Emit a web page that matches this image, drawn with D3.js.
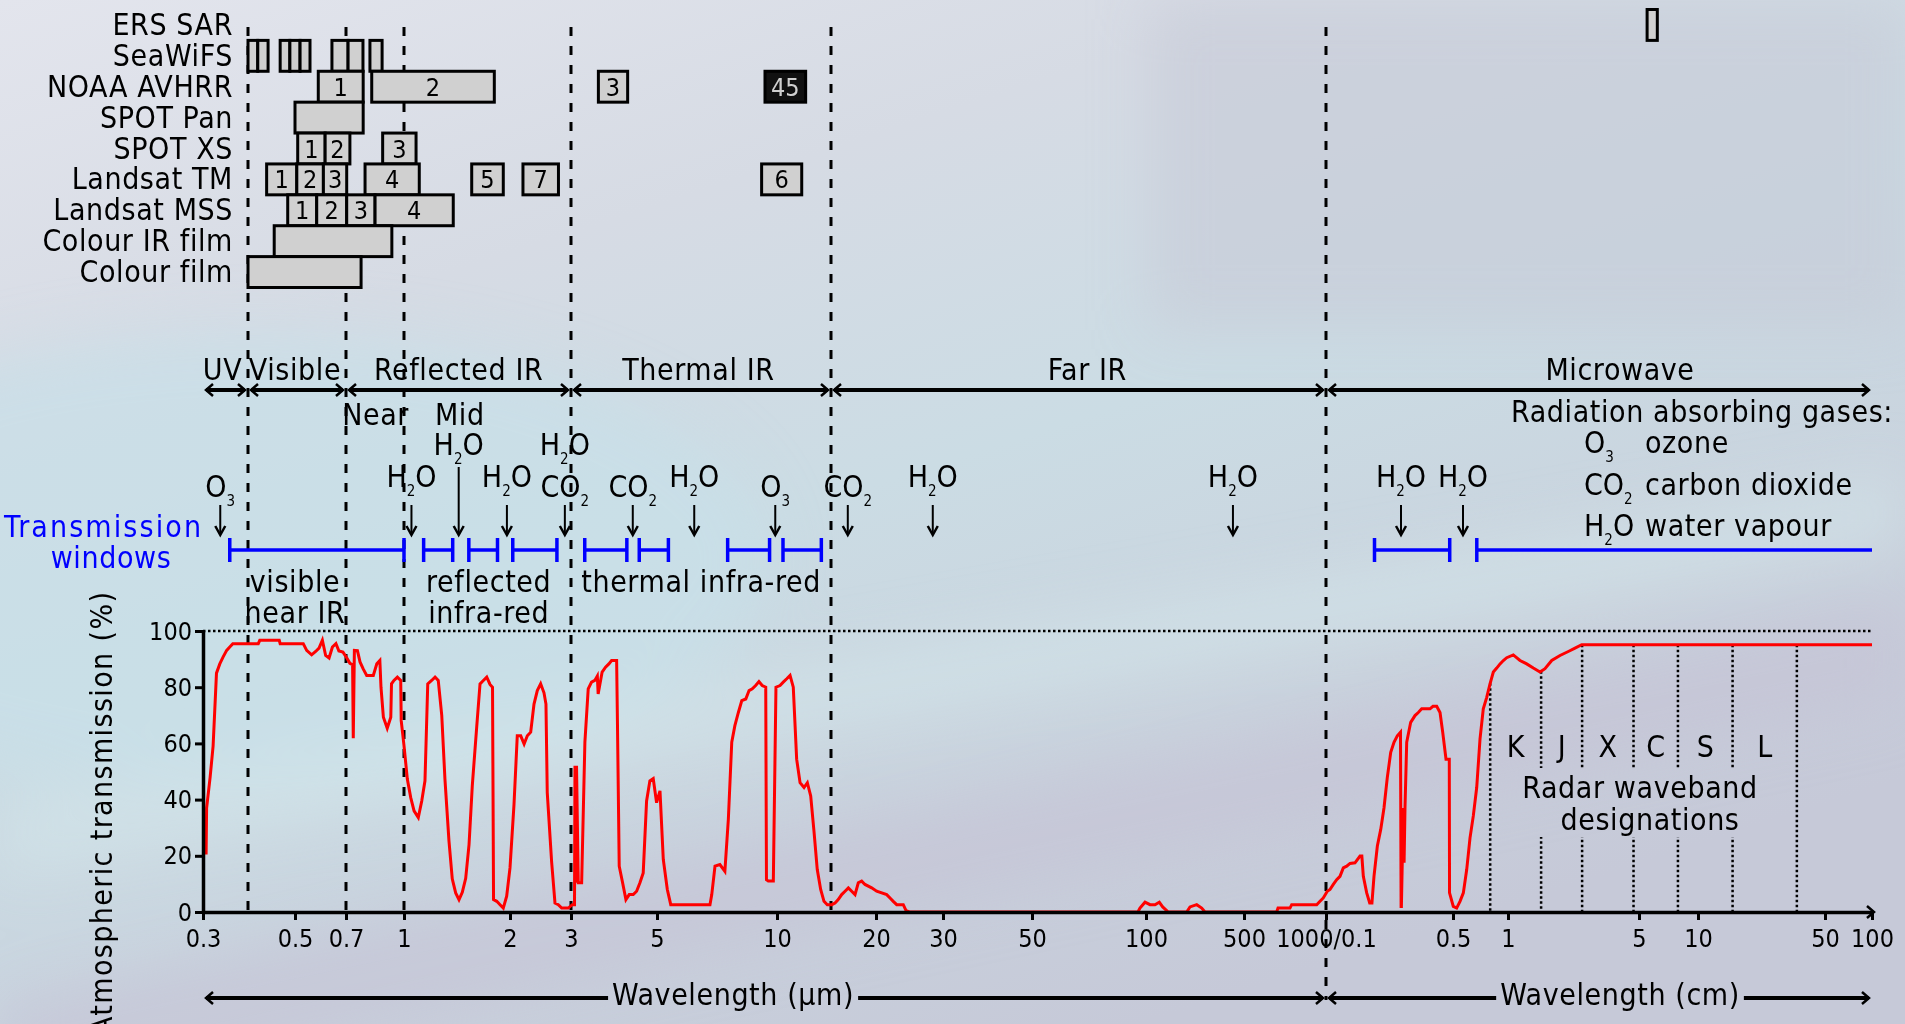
<!DOCTYPE html>
<html>
<head>
<meta charset="utf-8">
<script src="https://cdnjs.cloudflare.com/ajax/libs/d3/7.8.5/d3.min.js"></script>
<style>
  html, body { margin: 0; padding: 0; overflow: hidden; }
  svg { display: block; font-family: "DejaVu Sans Condensed", "Liberation Sans Narrow", "DejaVu Sans", sans-serif; }
  .big { letter-spacing: 0.6px; }
</style>
</head>
<body>
<div id="chart"></div>
<script>
'use strict';

// ---------- data (wavelengths in micrometres) ----------
const sensors = ['ERS SAR', 'SeaWiFS', 'NOAA AVHRR', 'SPOT Pan', 'SPOT XS',
                 'Landsat TM', 'Landsat MSS', 'Colour IR film', 'Colour film'];

// [sensor, band label, from, to, merged]
const sensorBands = [
  ['ERS SAR', '', 55000, 62000],
  ['SeaWiFS', '', 0.400, 0.419], ['SeaWiFS', '', 0.419, 0.440],
  ['SeaWiFS', '', 0.466, 0.488], ['SeaWiFS', '', 0.488, 0.517], ['SeaWiFS', '', 0.517, 0.552],
  ['SeaWiFS', '', 0.638, 0.709], ['SeaWiFS', '', 0.709, 0.777], ['SeaWiFS', '', 0.811, 0.874],
  ['NOAA AVHRR', '1', 0.583, 0.778], ['NOAA AVHRR', '2', 0.82, 1.805],
  ['NOAA AVHRR', '3', 3.53, 4.2], ['NOAA AVHRR', '45', 9.33, 12.4, true],
  ['SPOT Pan', '', 0.5, 0.778],
  ['SPOT XS', '1', 0.509, 0.61], ['SPOT XS', '2', 0.61, 0.717], ['SPOT XS', '3', 0.877, 1.082],
  ['Landsat TM', '1', 0.437, 0.506], ['Landsat TM', '2', 0.506, 0.603], ['Landsat TM', '3', 0.603, 0.703],
  ['Landsat TM', '4', 0.787, 1.105], ['Landsat TM', '5', 1.557, 1.914], ['Landsat TM', '7', 2.18, 2.76],
  ['Landsat TM', '6', 9.15, 12.04],
  ['Landsat MSS', '1', 0.483, 0.577], ['Landsat MSS', '2', 0.577, 0.703],
  ['Landsat MSS', '3', 0.703, 0.837], ['Landsat MSS', '4', 0.837, 1.38],
  ['Colour IR film', '', 0.453, 0.928],
  ['Colour film', '', 0.4, 0.768]
];

const regions = [
  { name: 'UV',           from: 0.3,  to: 0.4,  at: 0.34 },
  { name: 'Visible',      from: 0.4,  to: 0.7,  at: 0.5 },
  { name: 'Reflected IR', from: 0.7,  to: 3,    at: 1.43 },
  { name: 'Thermal IR',   from: 3,    to: 15,   at: 6.35 },
  { name: 'Far IR',       from: 15,   to: 1000, at: 70 },
  { name: 'Microwave',    from: 1000, to: 1e6,  at: 39600 }
];
const subRegions = [ { name: 'Near', at: 0.84 }, { name: 'Mid', at: 1.44 } ];
const dividers = [0.4, 0.7, 1, 3, 15, 1000];

const absorbers = [
  { at: 0.335, lower: 'O3' },  { at: 1.05, lower: 'H2O' }, { at: 1.43, upper: 'H2O' },
  { at: 1.96, lower: 'H2O' },  { at: 2.88, upper: 'H2O', lower: 'CO2' },
  { at: 4.33, lower: 'CO2' },  { at: 6.2, lower: 'H2O' },  { at: 9.9, lower: 'O3' },
  { at: 16.7, lower: 'CO2' },  { at: 28.2, lower: 'H2O' }, { at: 417, lower: 'H2O' },
  { at: 2587, lower: 'H2O' },  { at: 5670, lower: 'H2O' }
];
const gasLegend = [ ['O3', 'ozone'], ['CO2', 'carbon dioxide'], ['H2O', 'water vapour'] ];

const windows = [
  [0.356, 1.0], [1.137, 1.375], [1.528, 1.843], [2.037, 2.732], [3.255, 4.18],
  [4.5, 5.34], [7.52, 9.58], [10.46, 13.95], [1849, 4796], [6748, 1e6]
];
const windowLabels = [
  { lines: ['visible', 'near IR'], at: 0.5 },
  { lines: ['reflected', 'infra-red'], at: 1.74 },
  { lines: ['thermal infra-red'], at: 6.45 }
];

const xTicks      = [0.3, 0.5, 0.7, 1, 2, 3, 5, 10, 20, 30, 50, 100, 500, 1000, 5000, 1e4, 5e4, 1e5, 5e5, 1e6];
const xTickLabels = ['0.3', '0.5', '0.7', '1', '2', '3', '5', '10', '20', '30', '50', '100', '500',
                     '1000/0.1', '0.5', '1', '5', '10', '50', '100'];
const yTicks = [0, 20, 40, 60, 80, 100];
const axisTitles = [
  { text: 'Wavelength (\u00b5m)', from: 0.3,  to: 1000, at: 7.76 },
  { text: 'Wavelength (cm)',      from: 1000, to: 1e6,  at: 39600 }
];

const radarBands = [
  { name: 'K', from: 7990,   to: 15020 },
  { name: 'J', from: 15020,  to: 24860 },
  { name: 'X', from: 24860,  to: 46750 },
  { name: 'C', from: 46750,  to: 79000 },
  { name: 'S', from: 79000,  to: 155000 },
  { name: 'L', from: 155000, to: 350000 }
];

// atmospheric transmission (%) against wavelength
const transmission = [
  [0.306,20.5],[0.307,37],[0.314,48],[0.320,59],[0.327,85],[0.334,88.3],[0.341,90.7],[0.349,93.1],
  [0.356,94.3],[0.363,95.5],[0.42,95.5],[0.423,96.7],[0.464,96.7],[0.466,95.5],[0.528,95.5],
  [0.540,93.1],[0.558,91.5],[0.573,92.7],[0.586,93.9],[0.599,96.7],[0.612,91.3],[0.626,90.4],
  [0.640,94.3],[0.655,95.5],[0.668,92.9],[0.686,92.5],[0.703,90.5],[0.717,88.5],[0.729,88],
  [0.732,61.8],[0.737,93.1],[0.751,93],[0.763,89],[0.778,86.5],[0.795,84.2],[0.828,84.2],
  [0.846,88.3],[0.862,89.5],[0.868,80],[0.881,69.3],[0.902,65.4],[0.922,69.3],[0.926,81.2],
  [0.940,82.4],[0.960,83.6],[0.980,82.4],[0.983,68.1],[1.0,59.2],
  [1.022,47.3],[1.045,40.7],[1.068,36],[1.098,33.6],[1.123,39.5],[1.147,46.7],[1.168,81.2],
  [1.198,82.4],[1.225,83.6],[1.251,82.4],[1.280,70],[1.307,47.3],[1.342,25.2],[1.371,11.8],
  [1.402,6.8],[1.433,4.4],[1.464,7],[1.497,12],[1.530,24],[1.563,45],[1.609,66],[1.644,81.2],
  [1.680,82.4],[1.718,83.6],[1.755,81],[1.784,80],[1.796,4.4],[1.834,3.8],[1.874,2.6],
  [1.914,1.4],[1.957,5.6],[2.0,15.7],
  [2.054,38.3],[2.099,62.7],[2.148,62.7],[2.197,59.8],[2.244,62.7],[2.295,64],[2.346,74],
  [2.398,78.8],[2.452,81.2],[2.507,78],[2.540,74],[2.562,42.5],[2.638,17.7],[2.697,3.2],
  [2.757,2.6],[2.820,1.4],[2.946,1.4],[3.023,2.6],[3.063,2.6],[3.072,52],[3.09,10.4],[3.10,52],
  [3.132,10.4],[3.196,10.4],[3.258,60.4],[3.323,79.4],[3.389,81.8],[3.456,82.4],[3.508,84],
  [3.525,77.6],[3.609,85.4],[3.683,87.1],[3.757,88.3],[3.818,89.5],[3.934,89.5],[3.953,67.5],
  [3.995,16.3],[4.076,10.4],[4.157,4.4],[4.240,6.2],[4.342,6.2],[4.43,7.4],[4.518,10.4],
  [4.607,13.9],[4.70,39.5],[4.793,46.7],[4.889,47.5],[4.988,38.9],[5.087,43.1],[5.185,18.7],
  [5.307,8],[5.413,2.6],[6.79,2.6],[6.86,6.2],[6.99,16.3],[7.19,16.9],[7.40,14.5],[7.55,33],
  [7.70,60.4],[7.84,66.3],[8.00,71],[8.16,75.2],[8.35,75.8],[8.51,78.8],[8.67,79.4],[8.84,80.6],
  [9.01,82],[9.18,80.6],[9.37,80],[9.41,11.5],[9.51,11],[9.79,11],[9.94,80],[10.23,80.6],
  [10.48,81.8],[10.76,83],[11.03,84.2],[11.30,80],[11.59,54.4],[11.89,46],[12.25,44.3],
  [12.56,46],[12.88,41.3],[13.20,28.8],[13.53,15.1],[13.88,8],[14.23,3.8],[14.59,2.6],
  [15.07,2.6],[15.39,3.2],[15.71,4.4],[16.06,6.2],[16.41,7.4],[16.76,8.6],[17.12,7.4],
  [17.49,6.2],[17.86,10.4],[18.25,11],[18.64,9.8],[19.45,8.6],[20.08,7.4],[21.34,6.2],
  [21.77,5],[22.2,3.8],[22.67,2.6],[23.59,2.6],[23.99,0.5],[24.5,0],
  [95.2,0],[96.4,1.4],[99.4,3.5],[106.8,2.6],[115.9,2.6],[124.4,3.5],[131.5,1.8],[144.2,0],
  [195.1,0],[206,1.8],[230,2.6],[249.6,1.4],[263.5,0],[659,0],[666.6,1.4],[737.5,1.4],
  [748.2,2.6],[924.5,2.6],[950.6,3.8],[977.5,5],[1016.6,7.4],[1052,8],[1097,9.8],[1145,11.5],
  [1194,12.7],[1245,15.7],[1300,16.3],[1356,17.3],[1444,17.5],[1539,19.9],[1575,19.9],
  [1605,12.7],[1675,6.8],[1740,3.2],[1790,3.2],[1837,12.7],[1917,23.5],[2001,29.4],[2086,37.1],
  [2175,47.9],[2271,56.8],[2367,60.4],[2469,62.7],[2570,64],[2590,2],[2600,2],[2664,37],
  [2690,17.5],[2721,37],[2781,60.4],[2925,67.5],[3089,69.9],[3221,71],[3363,72.3],[3736,72.3],
  [3880,73.2],[4067,73.2],[4242,71],[4388,64],[4576,54.4],[4770,54.4],[4785,6.8],[5018,2],
  [5236,1.4],[5462,3.8],[5697,6.8],[5943,15.1],[6196,26.4],[6458,34.2],[6741,44.3],[7027,61.5],
  [7324,72.3],[7647,76.4],[7973,81.2],[8311,85.4],[8674,86.8],[9046,88.3],[9431,89.5],
  [9840,90.5],[10673,91.5],[11588,89.5],[12581,88.3],[13646,86.8],[14816,85.4],[15755,86.6],
  [17112,89.5],[18945,91.3],[20977,92.7],[22784,93.9],[24737,95.1],[1e6,95.1]
];

// ---------- layout ----------
const W = 1905, H = 1024;
const fontBig = 30, fontSmall = 25;

// the wavelength axis is stretched piecewise, so the log scale is polylinear
const xBreaks = [0.3, 0.4, 0.5, 0.7, 1, 2, 3, 5, 10, 15, 20, 30, 50, 100, 500, 1000, 5000, 1e4, 5e4, 1e5, 5e5, 1e6];
const xPix    = [203, 248, 295, 346, 404, 510, 571, 657, 777, 831, 876, 943, 1032, 1146, 1244, 1326, 1453, 1508, 1639, 1698, 1825, 1872];
const xLog = d3.scaleLinear().domain(xBreaks.map(Math.log10)).range(xPix);
const x = w => xLog(Math.log10(w));
const y = d3.scaleLinear().domain([0, 100]).range([912, 631]);
const rowY = d3.scaleBand().domain(sensors).range([9.5, 287.5]);

const svg = d3.select('#chart').append('svg').attr('width', W).attr('height', H);
const defs = svg.append('defs');

// ---------- background ----------
const bg = defs.append('linearGradient').attr('id', 'bg')
  .attr('x1', 0).attr('y1', 0).attr('x2', 0.6).attr('y2', 1);
[['0%', '#e3e5ed'], ['30%', '#d6dbe4'], ['55%', '#cbdce4'], ['80%', '#c9d2dd'], ['100%', '#c6c9d8']]
  .forEach(s => bg.append('stop').attr('offset', s[0]).attr('stop-color', s[1]));
defs.append('filter').attr('id', 'soft').attr('x', '-20%').attr('y', '-20%').attr('width', '140%').attr('height', '140%')
  .append('feGaussianBlur').attr('stdDeviation', 28);

svg.append('rect').attr('width', W).attr('height', H).attr('fill', 'url(#bg)');
const streaks = svg.append('g').attr('filter', 'url(#soft)');
streaks.append('ellipse').attr('cx', 250).attr('cy', 560).attr('rx', 520).attr('ry', 230)
  .attr('fill', '#c7e0e8').attr('opacity', 0.7);
streaks.append('polygon').attr('points', '0,1000 1905,600 1905,700 0,1110')
  .attr('fill', '#c5c1d6').attr('opacity', 0.55);
streaks.append('polygon').attr('points', '0,800 1905,470 1905,545 0,880')
  .attr('fill', '#d3e7ec').attr('opacity', 0.5);
streaks.append('rect').attr('x', 1150).attr('y', 0).attr('width', 760).attr('height', 330)
  .attr('fill', '#c6cad7').attr('opacity', 0.6);

// ---------- helpers ----------
function chevron(g, tip, cy, dir) {
  g.append('path')
    .attr('d', `M${tip - dir * 7},${cy - 6}L${tip},${cy}L${tip - dir * 7},${cy + 6}`)
    .attr('fill', 'none').attr('stroke', '#000').attr('stroke-width', 2.5);
}
function addFormula(text, f, size) {
  let down = false;
  for (const part of f.match(/\d+|\D+/g)) {
    const t = text.append('tspan').text(part);
    if (/^\d+$/.test(part)) { t.attr('font-size', size * 0.5).attr('dy', size * 0.3); down = true; }
    else if (down) { t.attr('dy', -size * 0.3); down = false; }
  }
}

// ---------- dashed region dividers ----------
svg.append('g').selectAll('line').data(dividers).enter().append('line')
  .attr('x1', d => x(d)).attr('x2', d => x(d))
  .attr('y1', 27).attr('y2', d => d === 1000 ? 1000 : y(0))
  .attr('stroke', '#000').attr('stroke-width', 3).attr('stroke-dasharray', '9,10');

// ---------- sensor bands ----------
const topPanel = svg.append('g');
topPanel.selectAll('text.row').data(sensors).enter().append('text')
  .attr('class', 'big')
  .attr('x', 233).attr('y', d => rowY(d) + rowY.bandwidth() / 2 + 10)
  .attr('text-anchor', 'end').attr('font-size', fontBig).text(d => d);
const band = topPanel.selectAll('g.band').data(sensorBands).enter().append('g');
band.append('rect')
  .attr('x', d => x(d[2])).attr('width', d => x(d[3]) - x(d[2]))
  .attr('y', d => rowY(d[0])).attr('height', rowY.bandwidth())
  .attr('fill', d => d[4] ? '#111' : '#d0d0d0')
  .attr('stroke', '#000').attr('stroke-width', 3);
band.append('text')
  .attr('x', d => (x(d[2]) + x(d[3])) / 2).attr('y', d => rowY(d[0]) + rowY.bandwidth() / 2 + 9)
  .attr('text-anchor', 'middle').attr('font-size', fontSmall)
  .attr('fill', d => d[4] ? '#d0d0d0' : '#000').text(d => d[1]);

// ---------- spectral regions ----------
const reg = svg.append('g');
regions.forEach(r => {
  const x0 = x(r.from) + 3, x1 = x(r.to) - 3;
  reg.append('line').attr('x1', x0).attr('x2', x1).attr('y1', 390).attr('y2', 390)
    .attr('stroke', '#000').attr('stroke-width', 4);
  chevron(reg, x0, 390, -1);
  chevron(reg, x1, 390, 1);
  reg.append('text').attr('class', 'big').attr('x', x(r.at)).attr('y', 380).attr('text-anchor', 'middle')
    .attr('font-size', fontBig).text(r.name);
});
reg.selectAll('text.sub').data(subRegions).enter().append('text')
  .attr('class', 'big')
  .attr('x', d => x(d.at)).attr('y', 425).attr('text-anchor', 'middle')
  .attr('font-size', fontBig).text(d => d.name);

// ---------- absorbing gases ----------
const gas = svg.append('g');
absorbers.forEach(a => {
  const cx = x(a.at);
  if (a.upper) {
    addFormula(gas.append('text').attr('x', cx).attr('y', 455).attr('text-anchor', 'middle')
      .attr('font-size', fontBig), a.upper, fontBig);
  }
  if (a.lower) {
    const base = a.lower === 'H2O' ? 487 : 497;
    addFormula(gas.append('text').attr('x', cx).attr('y', base).attr('text-anchor', 'middle')
      .attr('font-size', fontBig), a.lower, fontBig);
  }
  const yTop = a.lower ? 505 : 467;
  gas.append('line').attr('x1', cx).attr('x2', cx).attr('y1', yTop).attr('y2', 534)
    .attr('stroke', '#000').attr('stroke-width', 2);
  gas.append('path').attr('d', `M${cx - 5},${526}L${cx},${535}L${cx + 5},${526}`)
    .attr('fill', 'none').attr('stroke', '#000').attr('stroke-width', 2.5);
});
gas.append('text').attr('class', 'big').attr('x', 1893).attr('y', 422).attr('text-anchor', 'end')
  .attr('font-size', fontBig).text('Radiation absorbing gases:');
gasLegend.forEach((g, i) => {
  const base = [453, 495, 536][i];
  addFormula(gas.append('text').attr('x', 1584).attr('y', base).attr('font-size', fontBig), g[0], fontBig);
  gas.append('text').attr('class', 'big').attr('x', 1645).attr('y', base).attr('font-size', fontBig).text(g[1]);
});

// ---------- transmission windows ----------
const win = svg.append('g').attr('stroke', '#0000ff').attr('stroke-width', 3.5);
windows.forEach(w => {
  win.append('line').attr('x1', x(w[0])).attr('x2', x(w[1])).attr('y1', 550).attr('y2', 550);
  win.append('line').attr('x1', x(w[0])).attr('x2', x(w[0])).attr('y1', 538).attr('y2', 562);
  if (w[1] < 1e6) win.append('line').attr('x1', x(w[1])).attr('x2', x(w[1])).attr('y1', 538).attr('y2', 562);
});
svg.append('text').attr('x', 4).attr('y', 537).attr('font-size', fontBig).attr('fill', '#0000ff')
  .attr('textLength', 197).text('Transmission');
svg.append('text').attr('class', 'big').attr('x', 111).attr('y', 568).attr('font-size', fontBig).attr('fill', '#0000ff')
  .attr('text-anchor', 'middle').text('windows');
windowLabels.forEach(l => {
  l.lines.forEach((t, i) => {
    svg.append('text').attr('class', 'big').attr('x', x(l.at)).attr('y', 592 + i * 31).attr('text-anchor', 'middle')
      .attr('font-size', fontBig).text(t);
  });
});

// ---------- plot ----------
svg.append('line').attr('x1', x(0.3)).attr('x2', x(1e6)).attr('y1', y(100)).attr('y2', y(100))
  .attr('stroke', '#000').attr('stroke-width', 2.5).attr('stroke-dasharray', '2.5,2.5');

// radar waveband designations
const bisect = d3.bisector(d => d[0]).left;
function transAt(w) {
  const i = bisect(transmission, w);
  const a = transmission[i - 1], b = transmission[i];
  const t = (Math.log(w) - Math.log(a[0])) / (Math.log(b[0]) - Math.log(a[0]));
  return a[1] + t * (b[1] - a[1]);
}
const radar = svg.append('g');
const radarText = radar.append('g');
radarText.append('text').attr('class', 'big').attr('x', 1640).attr('y', 798).attr('text-anchor', 'middle')
  .attr('font-size', fontBig).text('Radar waveband');
radarText.append('text').attr('class', 'big').attr('x', 1650).attr('y', 830).attr('text-anchor', 'middle')
  .attr('font-size', fontBig).text('designations');
const tb = radarText.node().getBBox();
const mask = defs.append('mask').attr('id', 'radarMask').attr('maskUnits', 'userSpaceOnUse')
  .attr('x', 0).attr('y', 0).attr('width', W).attr('height', H);
mask.append('rect').attr('width', W).attr('height', H).attr('fill', '#fff');
mask.append('rect').attr('x', tb.x - 4).attr('y', tb.y - 2).attr('width', tb.width + 8)
  .attr('height', tb.height + 2).attr('fill', '#000');
const radarEdges = Array.from(new Set(radarBands.flatMap(b => [b.from, b.to])));
radar.append('g').attr('mask', 'url(#radarMask)').selectAll('line').data(radarEdges).enter().append('line')
  .attr('x1', d => x(d)).attr('x2', d => x(d))
  .attr('y1', d => y(transAt(d))).attr('y2', y(0))
  .attr('stroke', '#000').attr('stroke-width', 2.5).attr('stroke-dasharray', '2.5,2.5');
radar.selectAll('text.band').data(radarBands).enter().append('text')
  .attr('x', d => (x(d.from) + x(d.to)) / 2).attr('y', 757).attr('text-anchor', 'middle')
  .attr('font-size', fontBig).text(d => d.name);

// transmission curve
const line = d3.line().x(d => x(d[0])).y(d => y(d[1]));
svg.append('path').datum(transmission).attr('d', line)
  .attr('fill', 'none').attr('stroke', '#ff0000').attr('stroke-width', 3).attr('stroke-linejoin', 'miter');

// axes
const tickLabel = new Map(xTicks.map((t, i) => [Math.log10(t), xTickLabels[i]]));
const xAxis = svg.append('g').attr('transform', `translate(0,${y(0)})`)
  .call(d3.axisBottom(xLog).tickValues(xTicks.map(Math.log10))
    .tickFormat(d => tickLabel.get(d)).tickSize(8).tickSizeOuter(0));
xAxis.select('.domain').attr('stroke-width', 3.5);
xAxis.selectAll('.tick line').attr('stroke-width', 3);
xAxis.selectAll('.tick text').attr('y', 17).attr('font-size', fontSmall).attr('fill', '#000');
xAxis.attr('font-family', null);
chevron(svg, x(1e6) + 2, y(0), 1);

const yAxis = svg.append('g').attr('transform', `translate(${x(0.3)},0)`)
  .call(d3.axisLeft(y).tickValues(yTicks).tickSize(8).tickSizeOuter(0));
yAxis.select('.domain').attr('stroke-width', 3.5);
yAxis.selectAll('.tick line').attr('stroke-width', 3);
yAxis.selectAll('.tick text').attr('font-size', fontSmall).attr('fill', '#000');
yAxis.attr('font-family', null);

svg.append('text').attr('transform', 'translate(112,592) rotate(-90)')
  .attr('text-anchor', 'end').attr('font-size', fontBig)
  .attr('textLength', 443).attr('lengthAdjust', 'spacing')
  .text('Atmospheric transmission (%)');

// wavelength unit arrows
axisTitles.forEach(a => {
  const x0 = x(a.from) + 3, x1 = x(a.to) - 3, cy = 998;
  const t = svg.append('text').attr('class', 'big').attr('x', x(a.at)).attr('y', 1005).attr('text-anchor', 'middle')
    .attr('font-size', fontBig).text(a.text);
  const b = t.node().getBBox();
  svg.append('line').attr('x1', x0).attr('x2', b.x - 4).attr('y1', cy).attr('y2', cy)
    .attr('stroke', '#000').attr('stroke-width', 4);
  svg.append('line').attr('x1', b.x + b.width + 4).attr('x2', x1).attr('y1', cy).attr('y2', cy)
    .attr('stroke', '#000').attr('stroke-width', 4);
  chevron(svg, x0, cy, -1);
  chevron(svg, x1, cy, 1);
});
</script>
</body>
</html>
